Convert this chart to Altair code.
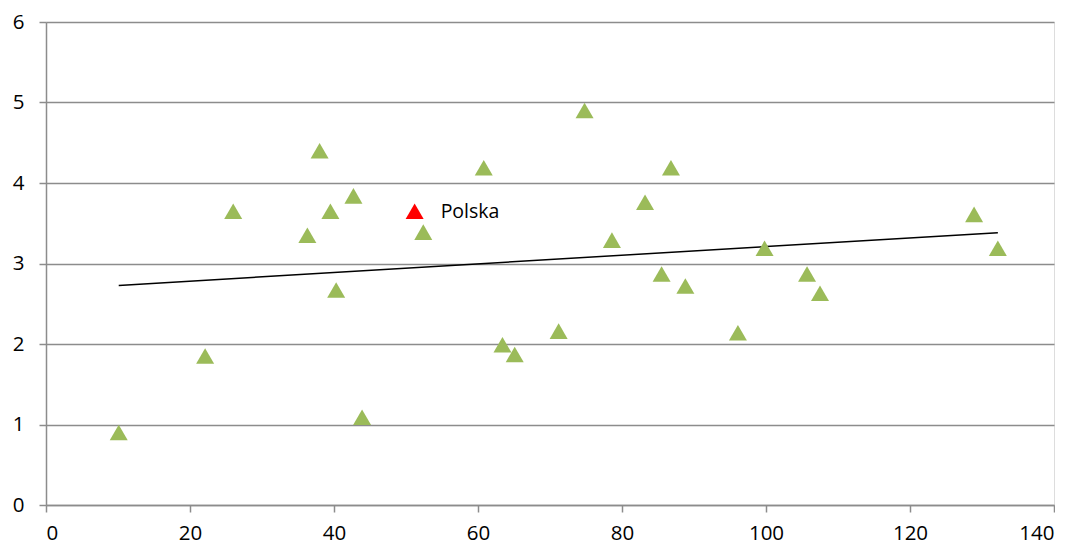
import altair as alt
import pandas as pd

x_vals = [10.1, 22.1, 26.0, 36.3, 38.0, 39.5, 40.3, 42.7, 43.9, 52.4, 60.8, 63.4, 65.1,
          71.2, 74.8, 78.6, 83.2, 85.5, 86.8, 88.8, 96.1, 99.8, 105.7, 107.5, 128.9, 132.2]
y_vals = [0.90, 1.85, 3.65, 3.35, 4.40, 3.65, 2.67, 3.84, 1.09, 3.39, 4.19, 1.99, 1.87,
          2.16, 4.90, 3.29, 3.76, 2.87, 4.19, 2.72, 2.14, 3.19, 2.87, 2.63, 3.61, 3.19]
polska_x = [51.2]
polska_y = [3.65]
polska_label = ["Polska"]

df = pd.DataFrame({"x": x_vals, "y": y_vals})
dfp = pd.DataFrame({"x": polska_x, "y": polska_y, "label": polska_label})
df_all = pd.concat([df, dfp[["x", "y"]]], ignore_index=True)

FONT = "Open Sans"
GRAY = "#8c8c8c"

xs = alt.Scale(domain=[0, 140], nice=False, zero=False)
ys = alt.Scale(domain=[0, 6], nice=False, zero=False)

x_axis = alt.Axis(values=list(range(0, 141, 20)), format="d", grid=False, tickSize=7,
                  tickColor=GRAY, domainColor=GRAY, domainWidth=1.5, tickWidth=1.5,
                  labelPadding=11, labelFontSize=20.5, labelColor="#000000", labelFont=FONT,
                  title=None)
y_axis = alt.Axis(values=list(range(0, 7)), format="d", grid=True, gridColor=GRAY,
                  gridWidth=1.5, tickSize=7, tickColor=GRAY, tickWidth=1.5,
                  domainColor=GRAY, domainWidth=1.5, labelPadding=15, labelFontSize=20.5,
                  labelColor="#000000", labelFont=FONT, title=None, minExtent=38)

pts = alt.Chart(df).mark_point(shape="triangle-up", filled=True, opacity=1, size=324,
                               color="#9BBB59").encode(
    x=alt.X("x:Q", scale=xs, axis=x_axis),
    y=alt.Y("y:Q", scale=ys, axis=y_axis),
)

trend = alt.Chart(df_all).transform_regression("x", "y").mark_line(
    color="#000000", strokeWidth=1.5).encode(
    x=alt.X("x:Q", scale=xs),
    y=alt.Y("y:Q", scale=ys),
)

pol = alt.Chart(dfp).mark_point(shape="triangle-up", filled=True, opacity=1, size=324,
                                color="#FF0000").encode(
    x=alt.X("x:Q", scale=xs),
    y=alt.Y("y:Q", scale=ys),
)

lbl = alt.Chart(dfp).mark_text(align="left", baseline="middle", dx=26, dy=1, fontSize=19.5,
                               font=FONT, color="#000000").encode(
    x=alt.X("x:Q", scale=xs),
    y=alt.Y("y:Q", scale=ys),
    text="label:N",
)

chart = alt.layer(trend, pts, pol, lbl).properties(
    width=1008, height=483,
    padding={"left": 0, "top": 4, "right": 0, "bottom": 0},
).configure_view(stroke=None).configure(background="#ffffff")

chart.save("out.html", embed_options={"renderer": "svg", "actions": False})
